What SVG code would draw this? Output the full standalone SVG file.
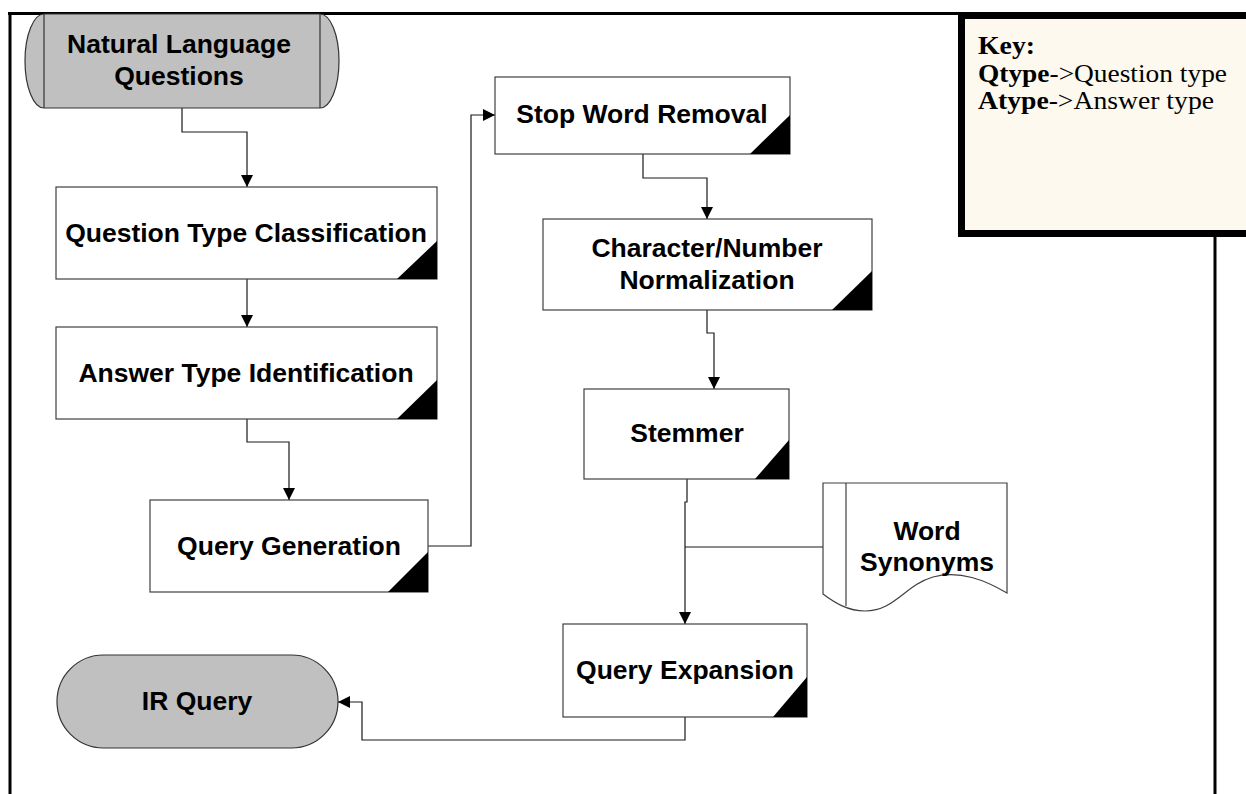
<svg xmlns="http://www.w3.org/2000/svg" width="1246" height="794" viewBox="0 0 1246 794">
  <style>
    .box { fill: #ffffff; stroke: #404040; stroke-width: 1.2; }
    .term { fill: #c0c0c0; stroke: #333333; stroke-width: 1.2; }
    .corner { fill: #000000; }
    .lbl { font-family: "Liberation Sans", Arial, sans-serif; font-weight: bold; font-size: 26.5px; fill: #000000; text-anchor: middle; }
    .key { font-family: "Liberation Serif", "Times New Roman", serif; font-size: 25px; fill: #000000; }
    .conn { fill: none; stroke: #1a1a1a; stroke-width: 1.2; }
    .frame { fill: none; stroke: #000000; stroke-width: 3; }
  </style>
  <defs>
    <marker id="arrow" markerUnits="userSpaceOnUse" markerWidth="12" markerHeight="12" refX="12" refY="6" orient="auto">
      <path d="M0,0 L12,6 L0,12 Z" fill="#000000"/>
    </marker>
  </defs>

  <rect x="0" y="0" width="1246" height="794" fill="#ffffff"/>

  <!-- page frame -->
  <g id="frame">
    <line class="frame" x1="8" y1="13.5" x2="1246" y2="13.5"/>
    <line class="frame" x1="10" y1="12" x2="10" y2="794"/>
    <line class="frame" x1="1215" y1="230" x2="1215" y2="794"/>
  </g>

  <!-- legend -->
  <g id="key">
    <rect x="961.5" y="15.5" width="300" height="218" fill="#fdf9ef" stroke="#000000" stroke-width="7"/>
    <text class="key" x="978" y="54" textLength="57" lengthAdjust="spacingAndGlyphs"><tspan font-weight="bold">Key:</tspan></text>
    <text class="key" x="978" y="82" textLength="249" lengthAdjust="spacingAndGlyphs"><tspan font-weight="bold">Qtype</tspan>-&gt;Question type</text>
    <text class="key" x="978" y="109" textLength="236" lengthAdjust="spacingAndGlyphs"><tspan font-weight="bold">Atype</tspan>-&gt;Answer type</text>
  </g>

  <!-- connectors -->
  <g id="connectors">
    <polyline class="conn" points="182,108 182,132 247,132 247,187" marker-end="url(#arrow)"/>
    <polyline class="conn" points="247,279 247,327" marker-end="url(#arrow)"/>
    <polyline class="conn" points="247,419 247,442 289,442 289,500" marker-end="url(#arrow)"/>
    <polyline class="conn" points="428,546 471,546 471,115 495,115" marker-end="url(#arrow)"/>
    <polyline class="conn" points="643,154 643,178 707,178 707,219" marker-end="url(#arrow)"/>
    <polyline class="conn" points="707,310 707,333 714,333 714,389" marker-end="url(#arrow)"/>
    <polyline class="conn" points="687,479 687,502 685,502 685,624" marker-end="url(#arrow)"/>
    <polyline class="conn" points="823,547 685,547"/>
    <polyline class="conn" points="685,717 685,740 362,740 362,702 338,702" marker-end="url(#arrow)"/>
  </g>

  <!-- start terminal -->
  <g id="natural-language-questions">
    <path class="term" d="M44,14 L320,14 A19,47 0 0 1 320,108 L44,108 A19,47 0 0 1 44,14 Z"/>
    <line x1="44" y1="14" x2="44" y2="108" stroke="#333333" stroke-width="1.2"/>
    <line x1="320" y1="14" x2="320" y2="108" stroke="#333333" stroke-width="1.2"/>
    <text class="lbl" x="179" y="53">Natural Language</text>
    <text class="lbl" x="179" y="85">Questions</text>
  </g>

  <g id="question-type-classification">
    <rect class="box" x="56" y="187" width="381" height="92"/>
    <polygon class="corner" points="437,241 437,279 397,279"/>
    <text class="lbl" x="246" y="242">Question Type Classification</text>
  </g>

  <g id="answer-type-identification">
    <rect class="box" x="56" y="327" width="381" height="92"/>
    <polygon class="corner" points="437,380 437,419 397,419"/>
    <text class="lbl" x="246" y="382">Answer Type Identification</text>
  </g>

  <g id="query-generation">
    <rect class="box" x="150" y="500" width="278" height="92"/>
    <polygon class="corner" points="428,552 428,592 388,592"/>
    <text class="lbl" x="289" y="555">Query Generation</text>
  </g>

  <g id="stop-word-removal">
    <rect class="box" x="495" y="77" width="295" height="77"/>
    <polygon class="corner" points="790,115 790,154 750,154"/>
    <text class="lbl" x="642" y="123">Stop Word Removal</text>
  </g>

  <g id="character-number-normalization">
    <rect class="box" x="543" y="219" width="329" height="91"/>
    <polygon class="corner" points="872,271 872,310 832,310"/>
    <text class="lbl" x="707" y="257">Character/Number</text>
    <text class="lbl" x="707" y="289">Normalization</text>
  </g>

  <g id="stemmer">
    <rect class="box" x="584" y="389" width="205" height="90"/>
    <polygon class="corner" points="789,440 789,479 755,479"/>
    <text class="lbl" x="687" y="442">Stemmer</text>
  </g>

  <g id="word-synonyms">
    <path class="box" d="M823,483 L1007,483 L1007,593 C985,580 960,570 933,577 C905,585 895,611 865,611 C848,611 835,603 823,594 Z"/>
    <line x1="846" y1="483" x2="846" y2="606" stroke="#404040" stroke-width="1.2"/>
    <text class="lbl" x="927" y="540">Word</text>
    <text class="lbl" x="927" y="571">Synonyms</text>
  </g>

  <g id="query-expansion">
    <rect class="box" x="563" y="624" width="244" height="93"/>
    <polygon class="corner" points="807,677 807,717 773,717"/>
    <text class="lbl" x="685" y="679">Query Expansion</text>
  </g>

  <!-- end terminal -->
  <g id="ir-query">
    <rect class="term" x="57" y="655" width="281" height="93" rx="46.5" ry="46.5"/>
    <text class="lbl" x="197" y="710">IR Query</text>
  </g>
</svg>
